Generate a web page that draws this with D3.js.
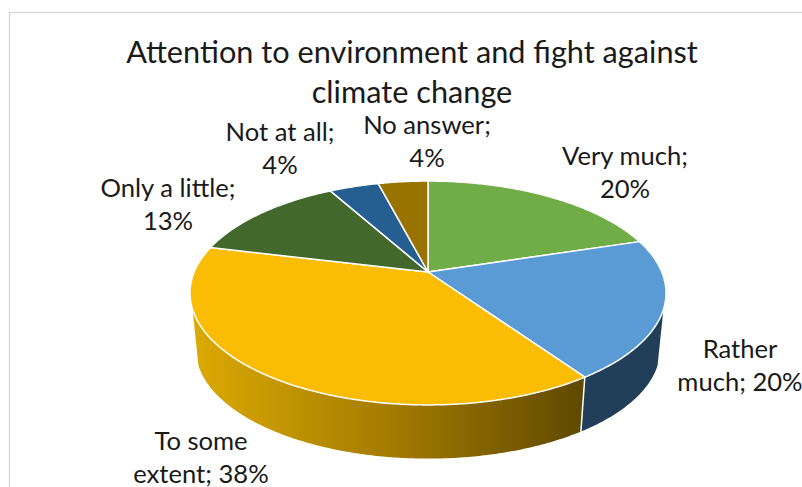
<!DOCTYPE html>
<html>
<head>
<meta charset="utf-8">
<script src="https://d3js.org/d3.v7.min.js"></script>
<style>
  html, body { margin: 0; padding: 0; background: #fff; overflow: hidden; }
  text { font-family: Lato, "Open Sans", sans-serif; fill: #1a1a1a; }
</style>
</head>
<body>
<div id="chart"></div>
<script>
const titleLines = ['Attention to environment and fight against', 'climate change'];
const categories = ['Very much', 'Rather much', 'To some extent', 'Only a little', 'Not at all', 'No answer'];
const percents = [20, 20, 38, 13, 4, 4];
const topColors = ['#70ad47', '#5b9bd5', '#fbbc04', '#43682b', '#255e91', '#997300'];

const width = 802;
const height = 487;

// Pie tilt: a unit disc seen in perspective, the back edge is further away
const radiusX = 233.8;
const radiusY = 108;
const perspective = 0.1875;
const apex = { x: 428, y: 272 };
const base = { x: 428, y: 329, scale: 0.975 };

// Only this range of the rim can be seen from the front
const frontStart = 109 * Math.PI / 180;
const frontEnd = 251 * Math.PI / 180;

// Where each label sits and after how many words it wraps
const labelLayout = [
  { x: 625, y: 165, wrap: 2 },
  { x: 740, y: 358, wrap: 1 },
  { x: 201, y: 450, wrap: 2 },
  { x: 168, y: 197, wrap: 3 },
  { x: 280, y: 141, wrap: 3 },
  { x: 427, y: 134, wrap: 2 }
];

function project(angle, plane) {
  const X = Math.sin(angle);
  const Y = Math.cos(angle);
  const w = 1 + perspective * Y;
  return [
    plane.x + plane.scale * radiusX * X / w,
    plane.y - plane.scale * radiusY * Y / w
  ];
}

function rimAngles(start, end) {
  const steps = Math.max(2, Math.ceil((end - start) / 0.01));
  return d3.range(steps + 1).map(i => start + (end - start) * i / steps);
}

const topPlane = { x: apex.x, y: apex.y, scale: 1 };
const line = d3.line();

const svg = d3.select('#chart').append('svg')
  .attr('width', width)
  .attr('height', height)
  .attr('viewBox', `0 0 ${width} ${height}`)
  .style('display', 'block');

// Chart frame, runs off the page on the right and at the bottom
svg.append('path')
  .attr('d', line([[9.5, height], [9.5, 12.5], [width, 12.5]]))
  .attr('fill', 'none')
  .attr('stroke', '#d9d9d9')
  .attr('stroke-width', 1.5);

const defs = svg.append('defs');
const shade = defs.append('linearGradient')
  .attr('id', 'side-shade')
  .attr('gradientUnits', 'userSpaceOnUse')
  .attr('x1', 192).attr('x2', 585)
  .attr('y1', 0).attr('y2', 0);
shade.append('stop').attr('offset', '0%').attr('stop-color', '#dcaa04');
shade.append('stop').attr('offset', '50%').attr('stop-color', '#a47c00');
shade.append('stop').attr('offset', '100%').attr('stop-color', '#5f4800');

const slices = d3.pie().sort(null).value(d => d)(percents);

// Side wall, only for the slices that reach the front of the rim
const sideColors = { 1: '#223f59', 2: 'url(#side-shade)' };
const sideGroup = svg.append('g');

slices.forEach((slice, i) => {
  const start = Math.max(slice.startAngle, frontStart);
  const end = Math.min(slice.endAngle, frontEnd);
  if (end <= start) return;

  const angles = rimAngles(start, end);
  const upper = angles.map(a => project(a, topPlane));
  const lower = angles.map(a => project(a, base)).reverse();

  sideGroup.append('path')
    .attr('d', line(upper.concat(lower)) + 'Z')
    .attr('fill', sideColors[i]);

  // Seam where two slices meet on the wall
  if (slice.startAngle > frontStart) {
    sideGroup.append('path')
      .attr('d', line([project(start, topPlane), project(start, base)]))
      .attr('stroke', '#fff')
      .attr('stroke-width', 1.5);
  }
});

// Top face
svg.append('g')
  .selectAll('path')
  .data(slices)
  .join('path')
  .attr('d', d => {
    const rim = rimAngles(d.startAngle, d.endAngle).map(a => project(a, topPlane));
    return line([[apex.x, apex.y]].concat(rim)) + 'Z';
  })
  .attr('fill', (d, i) => topColors[i])
  .attr('stroke', '#fff')
  .attr('stroke-width', 1.5)
  .attr('stroke-linejoin', 'round');

svg.append('g')
  .selectAll('text')
  .data(titleLines)
  .join('text')
  .attr('x', 412)
  .attr('y', (d, i) => 63 + i * 40)
  .attr('text-anchor', 'middle')
  .style('font-size', '30.7px')
  .text(d => d);

// Data labels read "<category>; <value>%" and wrap over two lines
const labels = svg.append('g')
  .selectAll('text')
  .data(categories)
  .join('text')
  .attr('text-anchor', 'middle')
  .style('font-size', '25.6px');

labels.each(function(name, i) {
  const spot = labelLayout[i];
  const words = `${name}; ${percents[i]}%`.split(' ');
  const rows = [words.slice(0, spot.wrap).join(' '), words.slice(spot.wrap).join(' ')];
  d3.select(this).selectAll('tspan')
    .data(rows)
    .join('tspan')
    .attr('x', spot.x)
    .attr('y', (d, r) => spot.y + r * 33)
    .text(d => d);
});
</script>
</body>
</html>
